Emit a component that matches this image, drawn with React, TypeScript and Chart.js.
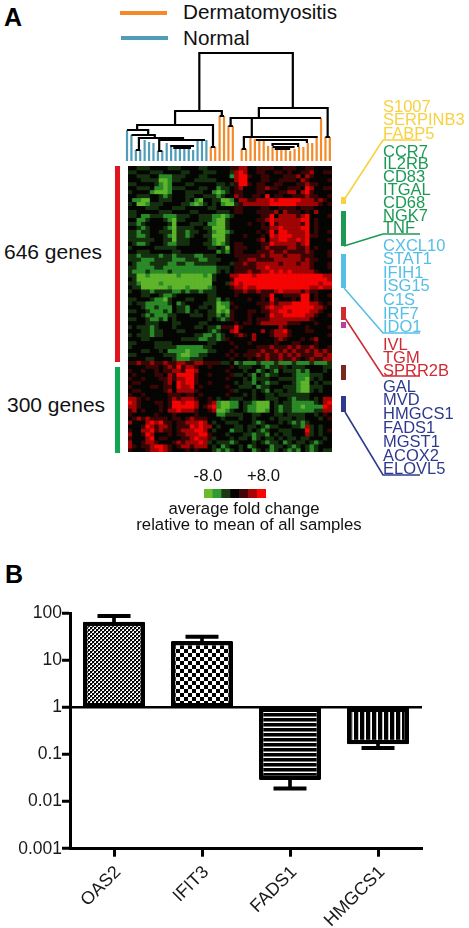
import React, { useEffect, useRef } from "react";
import { Chart, registerables } from "chart.js";

Chart.register(...registerables);

/* ---------- data ---------- */
const barCategories = ["OAS2", "IFIT3", "FADS1", "HMGCS1"];
const foldChange = [67, 26, 0.029, 0.166];
const errorEnd = [89, 32, 0.019, 0.139];
const yTickValues = [100, 10, 1, 0.1, 0.01, 0.001];

const yellowGenes = ["S1007", "SERPINB3", "FABP5"];
const greenGenes = ["CCR7", "IL2RB", "CD83", "ITGAL", "CD68", "NGK7", "TNF"];
const cyanGenes = ["CXCL10", "STAT1", "IFIH1", "ISG15", "C1S", "IRF7", "IDO1"];
const redGenes = ["IVL", "TGM", "SPRR2B"];
const navyGenes = ["GAL", "MVD", "HMGCS1", "FADS1", "MGST1", "ACOX2", "ELOVL5"];

/* fold-change level per cell, 1 = -8 (green) ... 4 = 0 (black) ... 7 = +8 (red) */
const scaleLevels = [1, 2, 3, 4, 5, 6, 7];
const heatRows = [
  "4433344443334444334444455664455554455544554444",
  "3344433344443344433344436764455445545445564455",
  "4433344222333444334444426775445544455564654444",
  "4443333112334443333344446774445544555546544445",
  "3344443212444334444433435775455445544455655444",
  "4433342212333444334423345644455655445554764455",
  "3444421112444333344212345544455444556646754444",
  "4433344323444334433323446544554745544555655445",
  "4221144333444342144331124665566676777776665654",
  "3411233344443321234342113566666677777766666545",
  "4444333444333444443344445544445544555545554444",
  "3344444333444433444433345544455556465554546444",
  "3342233322233344333221234444445574666656744445",
  "4422344432133444333211344444455676666667745444",
  "3323444443144433342211344445445475666665745444",
  "4432344432133334433111344444445566766667745444",
  "3323344333133233443211234444454575776666745445",
  "3322344432133234433111344454445476777666755444",
  "3333334433133344443211344444456466776676744445",
  "4322344432233344433212345544445576666656744444",
  "3444443333344444443343145554445655556655645444",
  "4433344444334444444423245544455565565555654445",
  "3323333233233332233344445555556566656665554445",
  "3332223333222333223334444556655556666665655444",
  "4322233332233223333344435565566666566656654445",
  "3322223322222222222233345555566766666666654445",
  "3222322223222222222234345556556676767666665444",
  "3311211111121111121344466777677777777777777766",
  "4311111111111111111344457777777777777777777776",
  "3321111211111111111444367677777777777777777677",
  "4331111112111211112344456676677777777777766766",
  "3443323333223233233344445565565556766665655444",
  "4443344322344444443344445444445574455557745445",
  "3344432213444334443324344445445475444547745444",
  "3433222223423444433312254444455565666777766545",
  "4443223222433244334311245444445676677777776654",
  "3344322232433243443312154445545566776777766544",
  "4443232223344433343323254445444576677777665445",
  "3344322324344444443432354445455566666666654444",
  "4444333444334444334444445455456666665554445444",
  "3433323444344443343325557544444444654444544445",
  "4443323344433444443234467444446456675444554444",
  "3433323344444443322323445654644456665444444445",
  "4443344444443333223323544444644445654445456444",
  "3344443333444444443344454445444445444554445444",
  "3444443333322222233444445444455565556565565445",
  "4443344342222122223344454445556556565655656565",
  "3344444433321122334444545455565655656565556656",
  "4444334444322233344444454445455655655654565566",
  "5565565565566556655553342322232223222322232223",
  "4444555456575665445444454333443233534333444433",
  "5445445455665776444444544434423432433323244434",
  "4544445546577775445444453343243233444322233344",
  "5445444556566775444444544434233344333322134344",
  "4554444456476775445444443433243233444321143433",
  "5444455455476674544444544333423344433321133344",
  "4554444456466665444444453444343243343321134344",
  "5445444445554554544444544434344334333333344444",
  "6654544445656665445434433344344333443233343466",
  "7654445545776776445621122433211143433222223467",
  "6654444545777776456721122432211143233221222276",
  "5645444546676665445611234432211243233222223366",
  "5444445444544445444422333344334443343333443454",
  "4565655554554565554443444344344434333433444345",
  "6444676755455666764344333444323444343232344444",
  "4445765665455576766434443343343233444332634344",
  "5446675655456667764344423343432344333444734345",
  "6445764445455666775444344433233243433444634344",
  "5444674554445567665344434334234334343343344434",
  "6445665444565666763433323444343233423433432344",
  "6545567765456656664342344342344423343234323444",
  "5444566765444545444323234344234323432324323433",
];

/* dendrogram: height of each leaf, and merges [x1, h1, top, x2, h2] in leaf units */
const normalLeaves = [31, 26, 11, 11, 21, 19, 18, 10, 10, 18, 14, 14, 13, 13, 12, 11, 21, 21, 21];
const dmLeaves = [14, 14, 45, 45, 35, 35, 0, 12, 12, 23, 22, 22, 21, 15, 14, 14, 12, 11, 10, 12, 14, 14, 18, 18, 23, 43, 24, 24];
const merges: number[][] = [
  [16.4, 50, 108, 37.6, 53],
  [10.9, 36, 50, 21.5, 45],
  [2.3, 31, 36, 19.5, 14],
  [19, 14, 14, 20, 14],
  [21, 45, 45, 22, 45],
  [0, 31, 31, 4.8, 26],
  [1, 26, 26, 6.3, 23],
  [2.7, 11, 23, 12.7, 21],
  [2, 11, 11, 3, 11],
  [7.3, 10, 21, 17.7, 21],
  [7, 10, 10, 8, 10],
  [9.8, 15, 15, 15.2, 15],
  [10.5, 13, 13, 14.5, 13],
  [29.9, 43, 53, 45.5, 24],
  [23.5, 35, 43, 44, 43],
  [23, 35, 35, 24, 35],
  [28.3, 24, 43, 28.3, 24],
  [26.5, 12, 24, 43, 23],
  [26, 12, 12, 27, 12],
  [29.5, 22, 21, 40.8, 18],
  [33, 15, 17, 38.8, 14],
  [33, 14, 14, 38, 14],
  [33.5, 12, 12, 37, 12],
  [45, 24, 24, 46, 24],
];

/* ---------- styles ---------- */
const FONT = "'Liberation Sans', Arial, sans-serif";
const scaleColor: Record<number, string> = {
  1: "#6cbb2a", 2: "#2f9b32", 3: "#1c3a12", 4: "#050505", 5: "#420606", 6: "#a80404", 7: "#fb0404",
};
const cellColor: Record<number, string> = {
  1: "#5fb52a", 2: "#2b8a28", 3: "#14300e", 4: "#050503", 5: "#3a0505", 6: "#a00404", 7: "#f50404",
};
const BLUE = "#4f9db8";
const ORANGE = "#f58a2a";

function makePattern(w: number, h: number, paint: (c: CanvasRenderingContext2D) => void) {
  const cv = document.createElement("canvas");
  cv.width = w;
  cv.height = h;
  const c = cv.getContext("2d")!;
  c.fillStyle = "#fff";
  c.fillRect(0, 0, w, h);
  c.fillStyle = "#000";
  paint(c);
  return c.createPattern(cv, "repeat")!;
}

function HeatCanvas() {
  const ref = useRef<HTMLCanvasElement>(null);
  useEffect(() => {
    const labels = Array.from(heatRows[0]).map((_, i) => String(i + 1));
    const chart = new Chart(ref.current!, {
      type: "bar",
      data: {
        labels,
        datasets: heatRows.map((row) => ({
          data: labels.map(() => 1),
          backgroundColor: labels.map((_, i) => cellColor[Number(row[i] ?? 4)]),
          borderWidth: 0,
          barPercentage: 1,
          categoryPercentage: 1,
        })),
      },
      options: {
        animation: false,
        responsive: false,
        layout: { padding: 0 },
        plugins: { legend: { display: false }, tooltip: { enabled: false } },
        scales: {
          x: { display: false, stacked: true },
          y: { display: false, stacked: true, min: 0, max: heatRows.length, reverse: true },
        },
      },
    });
    return () => chart.destroy();
  }, []);
  return (
    <canvas
      ref={ref}
      width={204}
      height={286}
      style={{ position: "absolute", left: 128, top: 166, background: "#050503", filter: "blur(0.6px)" }}
    />
  );
}

function DendroCanvas() {
  const ref = useRef<HTMLCanvasElement>(null);
  useEffect(() => {
    const gap = { x: NaN, y: NaN };
    const legs = (heights: number[], first: number) =>
      heights.flatMap((h, i) =>
        h > 0 ? [{ x: first + i, y: 0 }, { x: first + i, y: h }, gap] : [gap]
      );
    const links = merges.flatMap(([a, ha, top, b, hb]) => [
      { x: a, y: ha }, { x: a, y: top }, { x: b, y: top }, { x: b, y: hb }, gap,
    ]);
    const line = (data: any[], color: string) => ({
      data, borderColor: color, borderWidth: 2.2, showLine: true, pointRadius: 0, spanGaps: false, tension: 0,
    });
    const chart = new Chart(ref.current!, {
      type: "scatter",
      data: {
        datasets: [
          { ...line(links, "#000"), order: 0 },
          { ...line(legs(normalLeaves, 0), BLUE), order: 1 },
          { ...line(legs(dmLeaves, normalLeaves.length), ORANGE), order: 1 },
        ],
      },
      options: {
        animation: false,
        responsive: false,
        layout: { padding: 0 },
        plugins: { legend: { display: false }, tooltip: { enabled: false } },
        scales: {
          x: { display: false, type: "linear", min: -2.27, max: 48.3 },
          y: { display: false, type: "linear", min: 0, max: 111 },
        },
      },
    });
    return () => chart.destroy();
  }, []);
  return <canvas ref={ref} width={223} height={111} style={{ position: "absolute", left: 117, top: 50 }} />;
}

function ScaleCanvas() {
  const ref = useRef<HTMLCanvasElement>(null);
  useEffect(() => {
    const chart = new Chart(ref.current!, {
      type: "bar",
      data: {
        labels: scaleLevels.map((l) => ((l - 4) * 8) / 3),
        datasets: [{
          data: scaleLevels.map(() => 1),
          backgroundColor: scaleLevels.map((l) => scaleColor[l]),
          borderWidth: 0,
          barPercentage: 1,
          categoryPercentage: 1,
        }],
      },
      options: {
        animation: false,
        responsive: false,
        layout: { padding: 0 },
        plugins: { legend: { display: false }, tooltip: { enabled: false } },
        scales: { x: { display: false }, y: { display: false, min: 0, max: 1 } },
      },
    });
    return () => chart.destroy();
  }, []);
  return <canvas ref={ref} width={62} height={9} style={{ position: "absolute", left: 204, top: 489 }} />;
}

function BarCanvas() {
  const ref = useRef<HTMLCanvasElement>(null);
  useEffect(() => {
    const fine = makePattern(4, 4, (c) => { c.fillRect(0, 0, 2, 2); c.fillRect(2, 2, 2, 2); c.fillStyle = "#666"; c.fillRect(2, 0, 1, 1); c.fillRect(0, 2, 1, 1); });
    const coarse = makePattern(8, 8, (c) => { c.fillRect(0, 0, 4, 4); c.fillRect(4, 4, 4, 4); });
    const hStripes = makePattern(5, 5, (c) => { c.fillRect(0, 0, 5, 3); c.fillStyle = "#777"; c.fillRect(0, 3, 5, 1); });
    const vStripes = makePattern(6, 6, (c) => { c.fillRect(0, 0, 4, 6); c.fillStyle = "#bbb"; c.fillRect(4, 0, 1, 6); });
    const chart = new Chart(ref.current!, {
      type: "bar",
      data: {
        labels: barCategories,
        datasets: [
          {
            data: foldChange.map((v, i) => [v, errorEnd[i]]),
            backgroundColor: "#000",
            borderWidth: 0,
            barThickness: 3,
            grouped: false,
            order: 3,
          } as any,
          {
            data: foldChange.map((v) => [1, v]),
            backgroundColor: [fine, coarse, hStripes, vStripes],
            borderColor: "#000",
            borderWidth: 4.5,
            borderSkipped: false,
            borderRadius: 1,
            barPercentage: 0.705,
            categoryPercentage: 1,
            grouped: false,
            order: 2,
          } as any,
          {
            type: "line",
            data: errorEnd,
            showLine: false,
            pointStyle: "line",
            pointRadius: 16.5,
            pointBorderWidth: 4,
            pointBorderColor: "#000",
            borderColor: "#000",
            order: 1,
          } as any,
        ],
      },
      options: {
        animation: false,
        responsive: false,
        layout: { padding: { left: 0, right: 47, top: 7, bottom: 0 } },
        plugins: { legend: { display: false }, tooltip: { enabled: false } },
        scales: {
          x: {
            grid: { drawOnChartArea: false, offset: false, tickLength: 8, tickWidth: 3, tickColor: "#000" },
            border: { color: "#000", width: 3 },
            ticks: {
              color: "#1a1a1a", maxRotation: 45, minRotation: 45, padding: 5, labelOffset: 4, autoSkip: false,
              font: { family: FONT, size: 18 },
            },
            afterFit: (s: any) => { s.height = 79.3; },
          },
          y: {
            type: "logarithmic",
            min: 0.001,
            max: 100,
            grid: {
              color: (ctx: any) => (ctx.tick && ctx.tick.value === 1 ? "#000" : "rgba(0,0,0,0)"),
              lineWidth: 2.5,
              tickLength: 8,
              tickWidth: 3,
              tickColor: "#000",
            },
            border: { color: "#000", width: 3 },
            afterBuildTicks: (s: any) => { s.ticks = yTickValues.map((value) => ({ value })); },
            ticks: {
              color: "#1a1a1a", padding: 0, autoSkip: false,
              font: { family: FONT, size: 17.5 },
              callback: (v: any) => String(v),
            },
            afterFit: (s: any) => { s.width = 70; },
          },
        },
      },
    });
    return () => chart.destroy();
  }, []);
  return <canvas ref={ref} width={469} height={335} style={{ position: "absolute", left: 0, top: 593 }} />;
}

function T(p: { x: number; y: number; size: number; color?: string; bold?: boolean; center?: boolean; children: React.ReactNode }) {
  return (
    <div
      style={{
        position: "absolute", left: p.x, top: p.y, fontFamily: FONT, fontSize: p.size, lineHeight: 1,
        color: p.color ?? "#111", fontWeight: p.bold ? 700 : 400, whiteSpace: "nowrap",
        transform: p.center ? "translate(-50%,-50%)" : "translateY(-50%)",
      }}
    >
      {p.children}
    </div>
  );
}

function Box(p: { x: number; y: number; w: number; h: number; c: string }) {
  return <div style={{ position: "absolute", left: p.x, top: p.y, width: p.w, height: p.h, background: p.c }} />;
}

function GeneList(p: { genes: string[]; start: number; step: number; color: string }) {
  return (
    <>
      {p.genes.map((g, i) => (
        <T key={g} x={383} y={p.start + i * p.step} size={16.5} color={p.color}>{g}</T>
      ))}
    </>
  );
}

const YEL = "#f7d13f";
const GRN = "#1c9a55";
const CYN = "#55bfe6";
const RED = "#cf2b33";
const NVY = "#2f3a8f";

export default function App() {
  return (
    <div style={{ position: "absolute", left: 0, top: 0, width: 469, height: 928, overflow: "hidden", background: "#fff" }}>
      <T x={4} y={17} size={25} bold color="#000">A</T>
      <T x={5} y={574} size={25} bold color="#000">B</T>

      <Box x={120} y={10.5} w={47} h={4} c={ORANGE} />
      <Box x={121} y={36} w={47} h={4} c={BLUE} />
      <T x={183} y={12} size={20.7}>Dermatomyositis</T>
      <T x={183} y={38} size={20.7}>Normal</T>

      <DendroCanvas />
      <HeatCanvas />

      <Box x={115} y={166} w={4.5} h={196} c="#e0141c" />
      <Box x={115} y={367} w={4.5} h={86} c="#0fa552" />
      <T x={4} y={251} size={21}>646 genes</T>
      <T x={7} y={404} size={21}>300 genes</T>

      <Box x={341} y={197} w={5} h={7} c={YEL} />
      <Box x={341} y={211} w={4.5} h={35} c={GRN} />
      <Box x={341} y={254} w={5} h={34} c={CYN} />
      <Box x={341} y={307} w={5} h={13} c={RED} />
      <Box x={341} y={322} w={5} h={5.5} c="#b8439a" />
      <Box x={341} y={365} w={5} h={15} c="#7a2a1c" />
      <Box x={341} y={396} w={5} h={16} c={NVY} />

      <svg width={469} height={928} style={{ position: "absolute", left: 0, top: 0 }}>
        <polyline points="344,200 383,140 422,140" fill="none" stroke={YEL} strokeWidth={1.6} />
        <polyline points="344,246 383,234 420,234" fill="none" stroke={GRN} strokeWidth={1.6} />
        <polyline points="344,288 383,333 420,333" fill="none" stroke={CYN} strokeWidth={1.6} />
        <polyline points="345,318 383,376 420,376" fill="none" stroke={RED} strokeWidth={1.6} />
        <polyline points="345,412 383,475 420,475" fill="none" stroke={NVY} strokeWidth={1.6} />
      </svg>

      <GeneList genes={yellowGenes} start={105.5} step={13.8} color={YEL} />
      <GeneList genes={greenGenes} start={150.5} step={12.8} color={GRN} />
      <GeneList genes={cyanGenes} start={244.5} step={13.6} color={CYN} />
      <GeneList genes={redGenes} start={343.5} step={13} color={RED} />
      <GeneList genes={navyGenes} start={385.5} step={13.8} color={NVY} />

      <ScaleCanvas />
      <T x={208} y={476} size={16.7} center>-8.0</T>
      <T x={263.5} y={476} size={16.7} center>+8.0</T>
      <T x={244} y={509} size={16.7} center>average fold change</T>
      <T x={249} y={525} size={16.7} center>relative to mean of all samples</T>

      <BarCanvas />
    </div>
  );
}
